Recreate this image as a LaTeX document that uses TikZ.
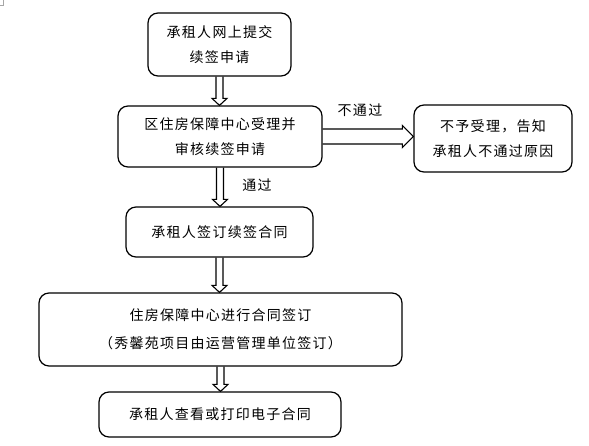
\documentclass[tikz,border=0pt]{standalone}
\usepackage{fontspec}
\newfontfamily\cjk[LetterSpace=9]{Noto Sans CJK SC}
\usetikzlibrary{calc}
\begin{document}
\begin{tikzpicture}[x=1pt,y=-1pt,
  box/.style={draw=black, line width=1.2pt, rounded corners=10pt, align=center,
    inner sep=0pt, font=\cjk\fontsize{14}{25}\selectfont},
  lbl/.style={font=\cjk\fontsize{14}{16}\selectfont, inner sep=0pt},
  downarrow/.style={draw=black, line width=1.1pt, line join=miter, to path={
    let \p1=(\tikztostart), \p2=(\tikztotarget) in
    (\x1-3.5pt,\y1) -- (\x1-3.5pt,\y2+7pt) -- (\x1-7.5pt,\y2+7pt) -- (\x1,\y2)
    -- (\x1+7.5pt,\y2+7pt) -- (\x1+3.5pt,\y2+7pt) -- (\x1+3.5pt,\y1)}},
  rightarrow/.style={draw=black, line width=1.1pt, line join=miter, to path={
    let \p1=(\tikztostart), \p2=(\tikztotarget) in
    (\x1,\y1+7.5pt) -- (\x2-11pt,\y1+7.5pt) -- (\x2-11pt,\y1+11pt) -- (\x2,\y1)
    -- (\x2-11pt,\y1-11pt) -- (\x2-11pt,\y1-7.5pt) -- (\x1,\y1-7.5pt)}}]
\useasboundingbox (0,0) rectangle (589,446);
\draw[gray!70, line width=0.6pt] (0,5) -- (3,5) -- (3,0);

\node[box, minimum width=143pt, minimum height=63pt] (b1) at (219.5,44.5) {承租人网上提交\\续签申请};
\node[box, minimum width=204pt, minimum height=61pt] (b2) at (220,136.5) {区住房保障中心受理并\\审核续签申请};
\node[box, minimum width=158pt, minimum height=67pt] (b3) at (493,138.5) {不予受理，告知\\承租人不通过原因};
\node[box, minimum width=187pt, minimum height=50pt] (b4) at (219.5,232) {承租人签订续签合同};
\node[box, minimum width=363pt, minimum height=73pt, font=\cjk\fontsize{14}{28}\selectfont] (b5) at (220.5,329.5) {住房保障中心进行合同签订\\（秀馨苑项目由运营管理单位签订）};
\node[box, minimum width=242pt, minimum height=45pt] (b6) at (220,414.5) {承租人查看或打印电子合同};

\node[lbl] (l1) at (360,110) {不通过};
\node[lbl] (l2) at (257,185) {通过};

\draw[downarrow] (b1.south) to (b2.north);
\draw[rightarrow] (b2.east) to (b3.west);
\draw[downarrow] (b2.south) to (b4.north);
\draw[downarrow] (b4.south) to (b5.north);
\draw[downarrow] (b5.south) to (b6.north);
\end{tikzpicture}
\end{document}
